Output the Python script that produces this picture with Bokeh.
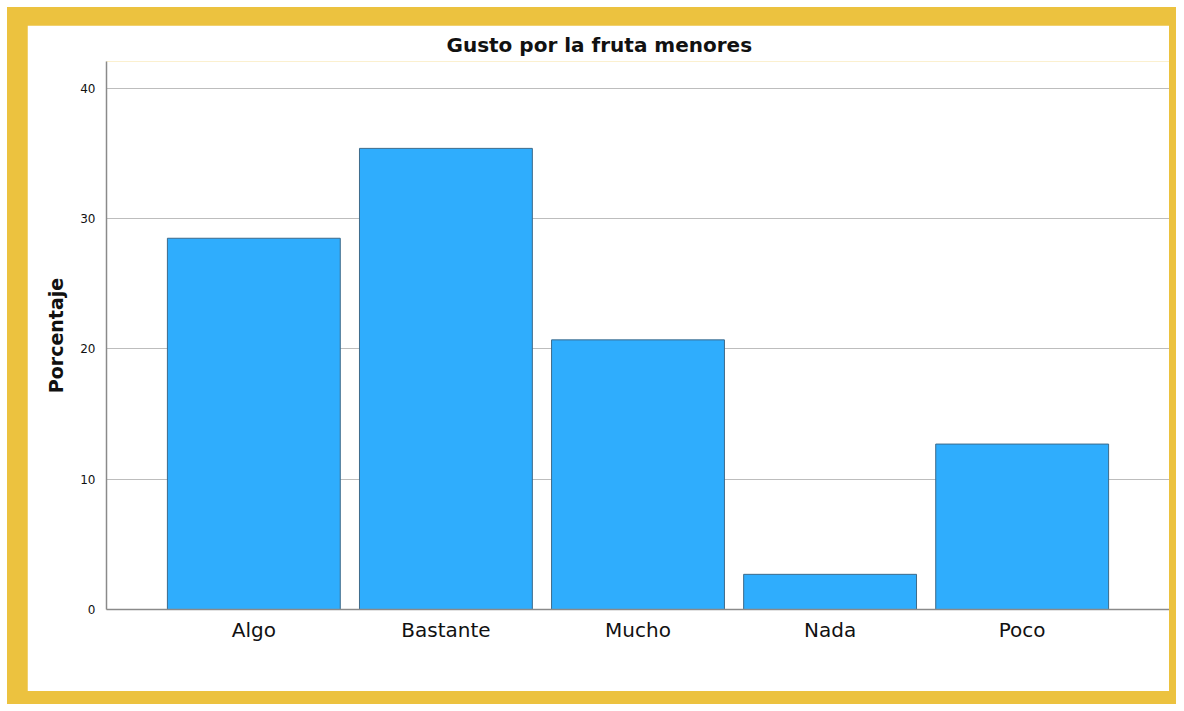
from bokeh.plotting import figure
from bokeh.models import FactorRange, Range1d, Column, FixedTicker
from bokeh.embed import file_html
from bokeh.resources import INLINE

categories = ["Algo", "Bastante", "Mucho", "Nada", "Poco"]
percentages = [28.5, 35.4, 20.7, 2.7, 12.7]
y_ticks = [0, 10, 20, 30, 40]

FONT = "DejaVu Sans"

p = figure(
    x_range=FactorRange(factors=categories, range_padding=0.267, range_padding_units="absolute"),
    y_range=Range1d(0, 42.07),
    width=1142, height=666,
    output_backend="svg", toolbar_location=None,
    min_border_left=79, min_border_right=0, min_border_bottom=82, min_border_top=0,
    title="Gusto por la fruta menores",
)
p.title.align = "left"
p.title.offset = 340
p.title.text_font = FONT
p.title.text_font_style = "bold"
p.title.text_font_size = "20px"
p.title.text_color = "#111111"

p.vbar(x=categories, top=percentages, width=0.9,
       fill_color="#2FADFD", line_color="#3D6A8A", line_width=1)

p.outline_line_color = None
p.background_fill_color = "white"
p.border_fill_color = "white"

p.xgrid.grid_line_color = None
p.ygrid.grid_line_color = "#BDBDBD"
p.ygrid.grid_line_width = 1.2
p.ygrid.ticker = FixedTicker(ticks=y_ticks)

p.yaxis.ticker = FixedTicker(ticks=y_ticks)
p.yaxis.major_tick_line_color = None
p.yaxis.minor_tick_line_color = None
p.yaxis.axis_line_color = "#8A8A8A"
p.yaxis.axis_line_width = 1.5
p.yaxis.major_label_text_font = FONT
p.yaxis.major_label_text_font_size = "12px"
p.yaxis.major_label_text_color = "#111111"
p.yaxis.axis_label = "Porcentaje"
p.yaxis.axis_label_text_font = FONT
p.yaxis.axis_label_text_font_style = "bold"
p.yaxis.axis_label_text_font_size = "19px"
p.yaxis.axis_label_text_color = "#111111"
p.yaxis.axis_label_standoff = 10

p.xaxis.major_tick_line_color = None
p.xaxis.minor_tick_line_color = None
p.xaxis.axis_line_color = "#8A8A8A"
p.xaxis.axis_line_width = 1.5
p.xaxis.major_label_text_font = FONT
p.xaxis.major_label_text_font_size = "20px"
p.xaxis.major_label_text_color = "#111111"
p.xaxis.major_label_standoff = 2

inner = Column(p, styles={"background-color": "#ECC23F", "padding": "18px 7px 13px 20px"})
layout = Column(inner, styles={"background-color": "white", "padding": "7px 7px 7px 7px"})

open("out.html", "w").write(file_html(layout, INLINE))
